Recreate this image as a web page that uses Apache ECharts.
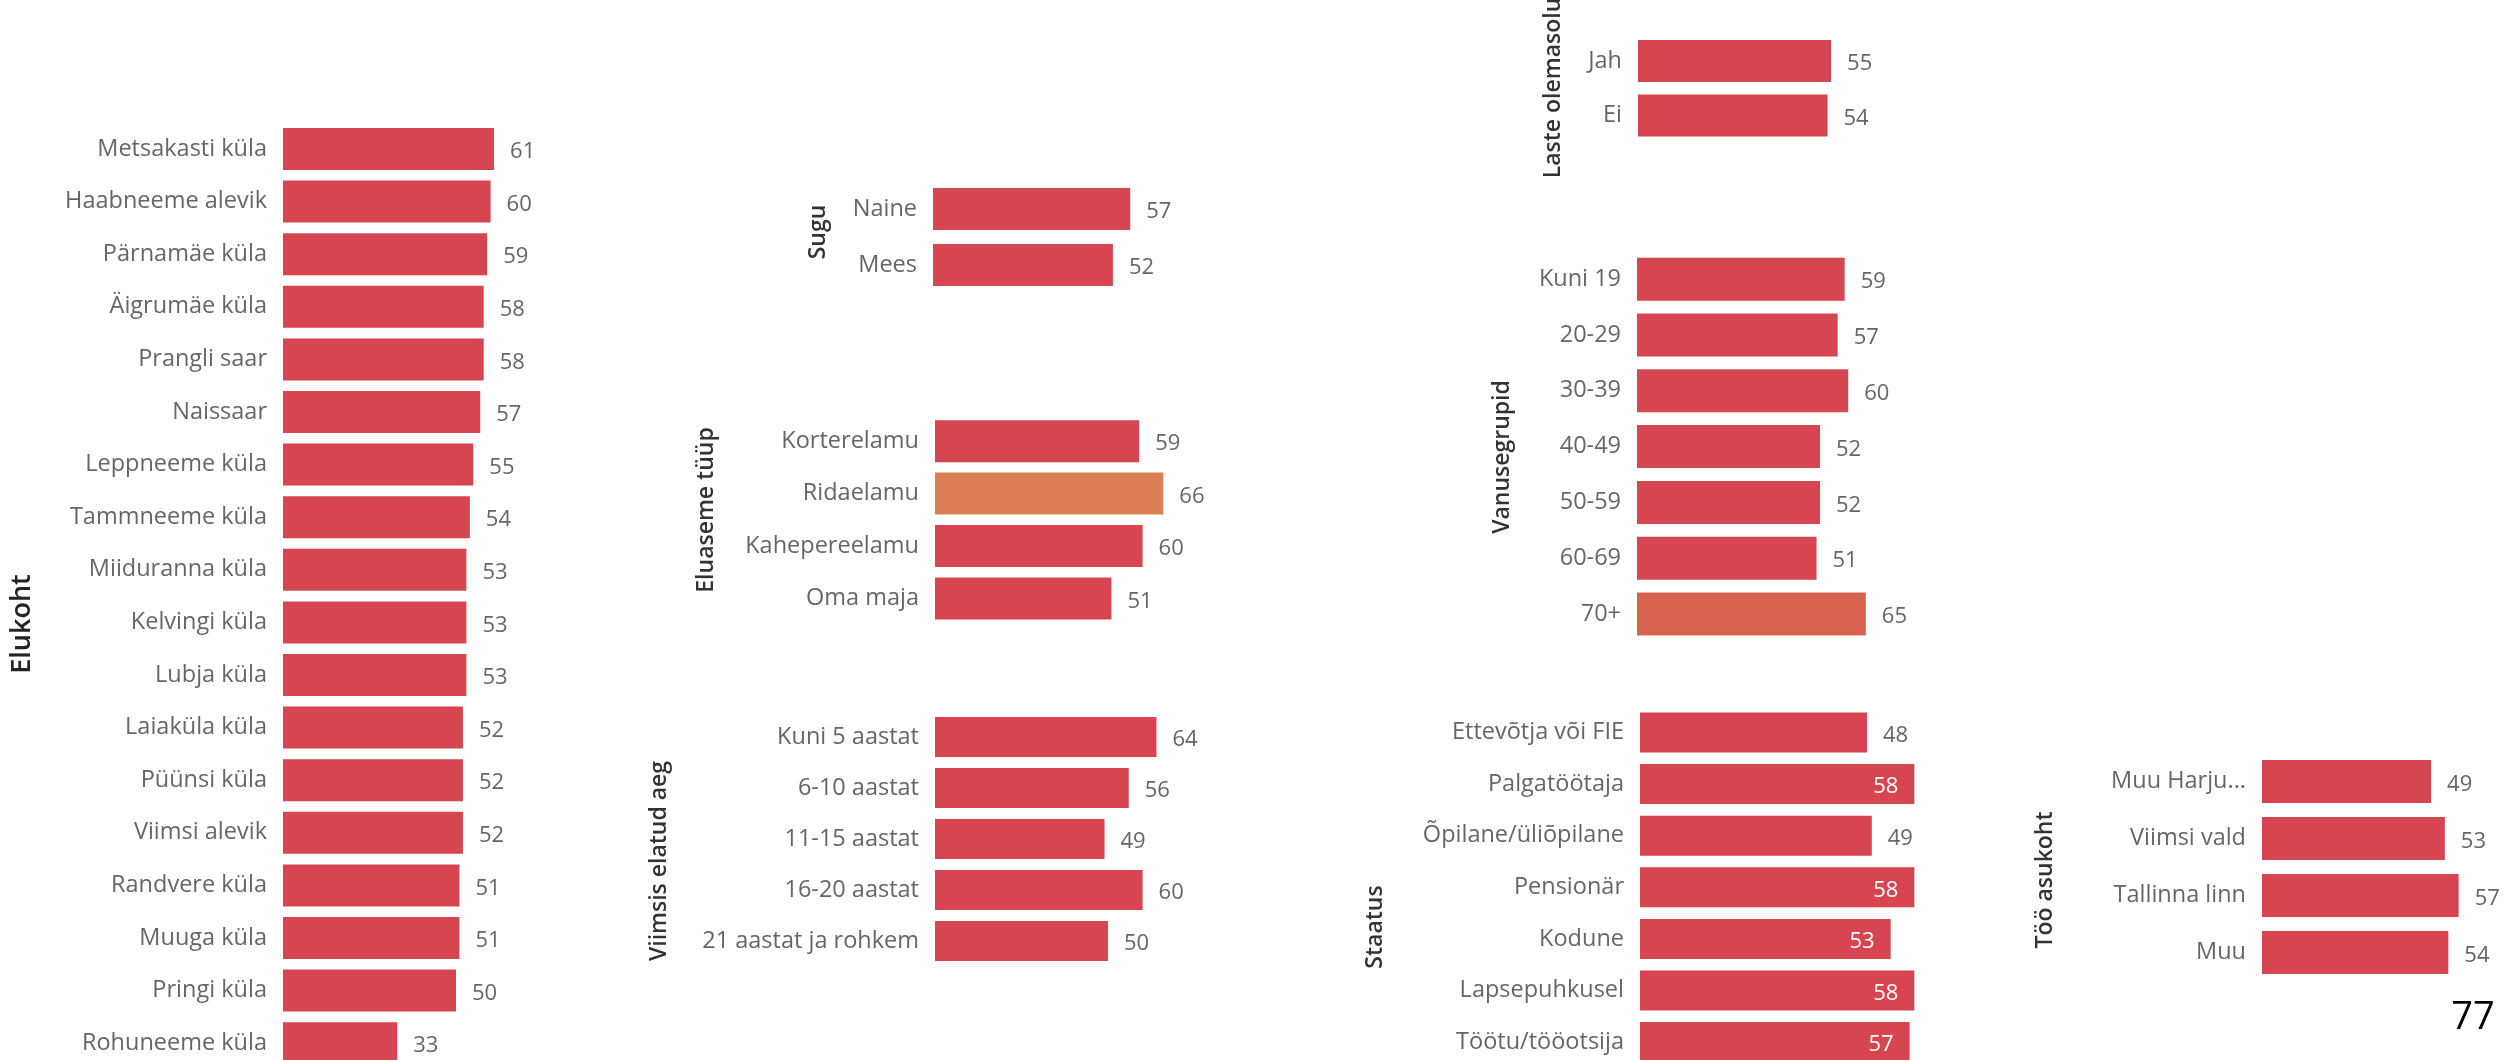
<!DOCTYPE html>
<html>
<head>
<meta charset="utf-8">
<script src="https://cdn.jsdelivr.net/npm/echarts@6/dist/echarts.min.js"></script>
<style>
html,body{margin:0;padding:0;background:#ffffff;}
#chart{width:2516px;height:1060px;}
</style>
</head>
<body>
<div id="chart"></div>
<script>
// ---------- DATA ----------
const elukohtCategories = ['Metsakasti küla','Haabneeme alevik','Pärnamäe küla','Äigrumäe küla','Prangli saar','Naissaar','Leppneeme küla','Tammneeme küla','Miiduranna küla','Kelvingi küla','Lubja küla','Laiaküla küla','Püünsi küla','Viimsi alevik','Randvere küla','Muuga küla','Pringi küla','Rohuneeme küla'];
const elukohtValues = [61,60,59,58,58,57,55,54,53,53,53,52,52,52,51,51,50,33];

const suguCategories = ['Naine','Mees'];
const suguValues = [57,52];

const eluasemeCategories = ['Korterelamu','Ridaelamu','Kahepereelamu','Oma maja'];
const eluasemeValues = [59,66,60,51];

const elatudAegCategories = ['Kuni 5 aastat','6-10 aastat','11-15 aastat','16-20 aastat','21 aastat ja rohkem'];
const elatudAegValues = [64,56,49,60,50];

const lasteCategories = ['Jah','Ei'];
const lasteValues = [55,54];

const vanusCategories = ['Kuni 19','20-29','30-39','40-49','50-59','60-69','70+'];
const vanusValues = [59,57,60,52,52,51,65];

const staatusCategories = ['Ettevõtja või FIE','Palgatöötaja','Õpilane/üliõpilane','Pensionär','Kodune','Lapsepuhkusel','Töötu/tööotsija'];
const staatusValues = [48,58,49,58,53,58,57];

const tooAsukohtCategories = ['Muu Harju...','Viimsi vald','Tallinna linn','Muu'];
const tooAsukohtValues = [49,53,57,54];

const pageNumber = '77';

// ---------- STYLE / LAYOUT ----------
const FONT = "'Open Sans','Noto Sans',sans-serif";
const BASE = '#D64550';
const highlightColors = { 'Ridaelamu': '#DC7F54', '70+': '#D86250' };
const AXIS_MAX = 70;

const panels = [
  {title:'Elukoht', cats:elukohtCategories, vals:elukohtValues, left:283, top:122.7, pitch:52.6, bar:42, scale:3.46, tx:22, ty:624, tsize:27, tweight:'600', tcolor:'#252423'},
  {title:'Sugu', cats:suguCategories, vals:suguValues, left:933, top:181, pitch:56, bar:42, scale:3.46, tx:818, ty:232, tsize:23},
  {title:'Eluaseme tüüp', cats:eluasemeCategories, vals:eluasemeValues, left:935, top:415, pitch:52.4, bar:42, scale:3.46, tx:706, ty:510, tsize:23},
  {title:'Viimsis elatud aeg', cats:elatudAegCategories, vals:elatudAegValues, left:935, top:711.5, pitch:51, bar:40, scale:3.46, tx:659, ty:861, tsize:23},
  {title:'Laste olemasolu', cats:lasteCategories, vals:lasteValues, left:1638, top:33.8, pitch:54.5, bar:42, scale:3.51, tx:1553, ty:88, tsize:23},
  {title:'Vanusegrupid', cats:vanusCategories, vals:vanusValues, left:1637, top:251.3, pitch:55.8, bar:43, scale:3.52, tx:1502, ty:457, tsize:23},
  {title:'Staatus', cats:staatusCategories, vals:staatusValues, left:1640, top:706.7, pitch:51.6, bar:40, scale:4.73, tx:1375, ty:927, tsize:23, insideFrom:50},
  {title:'Töö asukoht', cats:tooAsukohtCategories, vals:tooAsukohtValues, left:2262, top:752.9, pitch:57, bar:43, scale:3.45, tx:2045, ty:880, tsize:23}
];

const grid = [], xAxis = [], yAxis = [], series = [], graphic = [];
panels.forEach((p, i) => {
  grid.push({left:p.left, top:p.top, width:p.scale*AXIS_MAX, height:p.pitch*p.cats.length,
             containLabel:false, outerBoundsMode:'none'});
  xAxis.push({gridIndex:i, type:'value', min:0, max:AXIS_MAX, show:false});
  yAxis.push({
    gridIndex:i, type:'category', inverse:true, data:p.cats,
    axisLine:{show:false}, axisTick:{show:false}, splitLine:{show:false},
    axisLabel:{margin:16, color:'#666666', fontSize:23.5, fontFamily:FONT}
  });
  series.push({
    type:'bar', xAxisIndex:i, yAxisIndex:i, barWidth:p.bar,
    data:p.vals.map((v, k) => {
      const item = {value:v, itemStyle:{color: highlightColors[p.cats[k]] || BASE}};
      if (p.insideFrom !== undefined && v >= p.insideFrom) {
        item.label = {position:'insideRight', distance:16, color:'#ffffff'};
      }
      return item;
    }),
    label:{show:true, position:'right', distance:16, offset:[0,3], color:'#666666', fontSize:22, fontFamily:FONT},
    silent:true, animation:false
  });
  graphic.push({
    type:'text', x:p.tx, y:p.ty, rotation:Math.PI/2,
    style:{text:p.title, fill:p.tcolor || '#333333', font:(p.tweight || '600') + ' ' + p.tsize + 'px ' + FONT, textAlign:'center', textVerticalAlign:'middle'}
  });
});
graphic.push({
  type:'text', x:2473, y:1018,
  style:{text:pageNumber, fill:'#000000', font:'38px ' + FONT, textAlign:'center', textVerticalAlign:'middle'}
});

const chart = echarts.init(document.getElementById('chart'), null, {renderer:'canvas'});
chart.setOption({
  backgroundColor:'#ffffff',
  animation:false,
  grid, xAxis, yAxis, series, graphic
});
</script>
</body>
</html>
